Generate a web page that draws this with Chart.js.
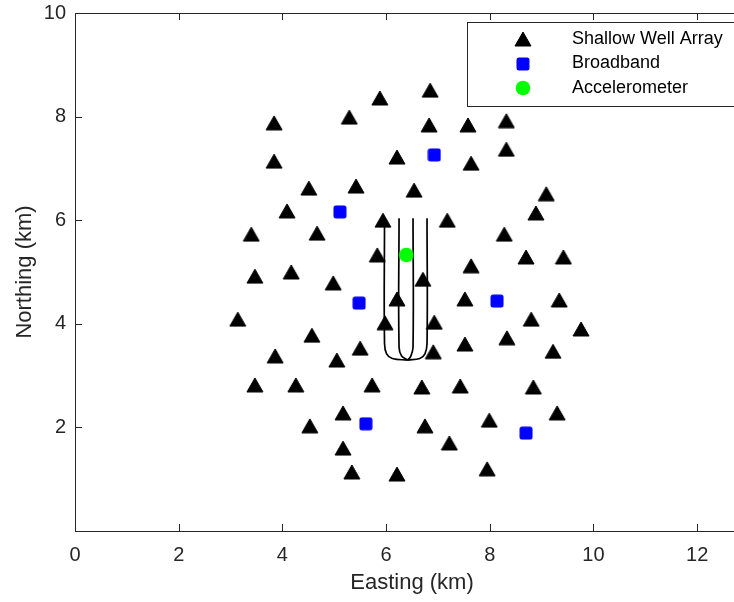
<!DOCTYPE html>
<html>
<head>
<meta charset="utf-8">
<script src="https://cdn.jsdelivr.net/npm/chart.js@4"></script>
<style>
  html, body { margin: 0; padding: 0; background: #fff; overflow: hidden; }
  #wrap { position: absolute; left: 0; top: 0; width: 760px; height: 602px; }
</style>
</head>
<body>
<div id="wrap"><canvas id="grafico"></canvas></div>
<script>
// estaciones (km)
const pozosX = [3.14, 3.40, 3.47, 3.47, 3.86, 3.84, 3.84, 4.09, 4.17, 4.26, 4.51, 4.57, 4.53, 4.67, 4.98, 5.05,
    5.17, 5.17, 5.34, 5.50, 5.42, 5.29, 5.73, 5.88, 5.94, 5.83, 5.98, 6.21, 6.21, 6.21, 6.54, 6.71,
    6.93, 6.91, 6.69, 6.75, 6.83, 6.85, 7.18, 7.22, 7.43, 7.52, 7.52, 7.64, 7.64, 7.58, 7.99, 7.95,
    8.28, 8.32, 8.32, 8.33, 8.70, 8.80, 8.84, 8.89, 9.09, 9.22, 9.30, 9.34, 9.42, 9.76];
const pozosY = [4.09, 5.73, 4.92, 2.82, 3.38, 7.88, 7.14, 6.18, 5.00, 2.82, 6.62, 3.78, 2.03, 5.75, 4.79, 3.30,
    2.28, 1.60, 1.14, 3.53, 6.66, 7.99, 2.82, 8.36, 6.00, 5.33, 4.02, 4.48, 1.10, 7.22, 6.58, 4.86,
    4.03, 3.46, 2.78, 2.03, 7.84, 8.51, 6.00, 1.70, 2.80, 3.61, 4.48, 5.12, 7.10, 7.84, 2.14, 1.20,
    5.73, 7.37, 7.92, 3.73, 5.29, 4.09, 2.78, 6.14, 6.51, 3.47, 2.28, 4.46, 5.29, 3.90];
const banchaX = [6.93, 5.11, 5.48, 8.14, 5.61, 8.70];
const banchaY = [7.26, 6.16, 4.40, 4.44, 2.07, 1.89];
const aceleroX = [6.39];
const aceleroY = [5.33];

// trayectorias de los pozos de inyeccion
const trayectorias = [
    [[5.97, 6.04], [5.97, 3.62], [6.01, 3.42], [6.12, 3.33], [6.42, 3.30]],
    [[6.25, 6.04], [6.25, 3.55], [6.30, 3.38], [6.42, 3.30]],
    [[6.52, 6.04], [6.52, 3.55], [6.48, 3.38], [6.42, 3.30]],
    [[6.79, 6.04], [6.79, 3.62], [6.75, 3.42], [6.65, 3.33], [6.42, 3.30]],
];

const ticksX = [0, 2, 4, 6, 8, 10, 12];
const ticksY = [2, 4, 6, 8, 10];
const nombres = ["Shallow Well Array", "Broadband", "Accelerometer"];

const GRIS = "#262626";
const FUENTE = "'Liberation Sans', Arial, sans-serif";

function marcador(w, h, dibujar) {
    const c = document.createElement("canvas");
    c.width = w; c.height = h;
    dibujar(c.getContext("2d"));
    return c;
}
const triangulo = marcador(18, 16, (g) => {
    g.beginPath();
    g.moveTo(9, 1); g.lineTo(17, 15); g.lineTo(1, 15); g.closePath();
    g.fillStyle = "#000"; g.fill();
    g.lineJoin = "round"; g.lineWidth = 1; g.strokeStyle = "#000"; g.stroke();
});
const cuadrado = marcador(14, 14, (g) => {
    g.beginPath();
    g.roundRect(0.5, 0.5, 13, 13, 2.5);
    g.fillStyle = "#0000ff"; g.fill();
});
const circulo = marcador(16, 16, (g) => {
    g.beginPath();
    g.arc(8, 8, 7.3, 0, Math.PI * 2);
    g.fillStyle = "#00ff00"; g.fill();
});
const simbolos = [triangulo, cuadrado, circulo];

const puntos = (xs, ys) => xs.map((x, i) => ({ x, y: ys[i] }));

const marco = {
    id: "marco",
    afterDatasetsDraw(chart) {
        const { ctx, chartArea: a, scales } = chart;
        ctx.save();
        ctx.strokeStyle = GRIS;
        ctx.lineWidth = 1;
        ctx.strokeRect(a.left + 0.5, a.top + 0.5, a.right - a.left, a.bottom - a.top);
        ctx.beginPath();
        scales.x.ticks.forEach((t) => {
            const px = Math.round(scales.x.getPixelForValue(t.value)) + 0.5;
            ctx.moveTo(px, a.bottom); ctx.lineTo(px, a.bottom - 7);
            ctx.moveTo(px, a.top); ctx.lineTo(px, a.top + 7);
        });
        scales.y.ticks.forEach((t) => {
            const py = Math.round(scales.y.getPixelForValue(t.value)) + 0.5;
            ctx.moveTo(a.left, py); ctx.lineTo(a.left + 7, py);
            ctx.moveTo(a.right, py); ctx.lineTo(a.right - 7, py);
        });
        ctx.stroke();

        // leyenda
        ctx.fillStyle = "#fff";
        ctx.fillRect(467.5, 22.5, 300, 84);
        ctx.strokeRect(467.5, 22.5, 300, 84);
        ctx.font = "18px " + FUENTE;
        ctx.textBaseline = "middle";
        ctx.fillStyle = "#000";
        nombres.forEach((n, i) => {
            const y = 39 + i * 24.5;
            const s = simbolos[i];
            ctx.drawImage(s, 523 - s.width / 2, Math.round(y) - s.height / 2);
            ctx.fillText(n, 572, y);
        });
        ctx.restore();
    },
};

const datasets = [
    { label: nombres[0], data: puntos(pozosX, pozosY), pointStyle: triangulo, pointRadius: 8, order: 0 },
    { label: nombres[1], data: puntos(banchaX, banchaY), pointStyle: cuadrado, pointRadius: 7, order: 0 },
    { label: nombres[2], data: puntos(aceleroX, aceleroY), pointStyle: circulo, pointRadius: 7, order: 0 },
    ...trayectorias.map((t) => ({
        type: "line",
        data: t.map(([x, y]) => ({ x, y })),
        borderColor: "#000",
        borderWidth: 1.7,
        pointRadius: 0,
        tension: 0.4,
        fill: false,
        order: 5,
    })),
];

new Chart(document.getElementById("grafico"), {
    type: "scatter",
    data: { datasets },
    plugins: [marco],
    options: {
        responsive: true,
        maintainAspectRatio: false,
        animation: false,
        events: [],
        layout: { padding: { top: 13, right: 11, left: 0, bottom: 0 } },
        plugins: { legend: { display: false }, tooltip: { enabled: false } },
        scales: {
            x: {
                type: "linear",
                min: 0,
                max: 13,
                afterBuildTicks: (s) => { s.ticks = ticksX.map((v) => ({ value: v })); },
                afterFit: (s) => { s.height = 71; s.paddingLeft = 0; s.paddingRight = 0; },
                grid: { display: false, drawTicks: false },
                border: { display: false },
                ticks: { color: GRIS, padding: 12, font: { size: 20, family: FUENTE } },
                title: { display: true, text: "Easting (km)", color: GRIS, padding: { bottom: 6 }, font: { size: 22, family: FUENTE } },
            },
            y: {
                type: "linear",
                min: 0,
                max: 10,
                afterBuildTicks: (s) => { s.ticks = ticksY.map((v) => ({ value: v })); },
                afterFit: (s) => { s.width = 75; s.paddingTop = 0; s.paddingBottom = 0; },
                grid: { display: false, drawTicks: false },
                border: { display: false },
                ticks: { color: GRIS, padding: 9, font: { size: 20, family: FUENTE } },
                title: { display: true, text: "Northing (km)", color: GRIS, padding: { top: 12 }, font: { size: 22, family: FUENTE } },
            },
        },
    },
});
</script>
</body>
</html>
